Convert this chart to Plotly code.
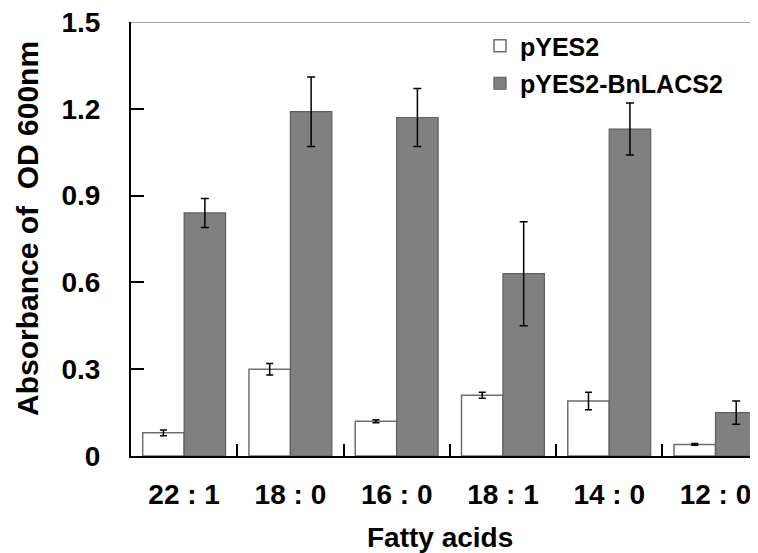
import plotly.graph_objects as go

categories = ["22 : 1", "18 : 0", "16 : 0", "18 : 1", "14 : 0", "12 : 0"]
pyes2 = [0.08, 0.30, 0.12, 0.21, 0.19, 0.04]
pyes2_err = [0.01, 0.02, 0.005, 0.01, 0.03, 0.003]
bnlacs2 = [0.84, 1.19, 1.17, 0.63, 1.13, 0.15]
bnlacs2_err = [0.05, 0.12, 0.10, 0.18, 0.09, 0.04]
y_ticks = [0, 0.3, 0.6, 0.9, 1.2, 1.5]
y_tick_labels = ["0", "0.3", "0.6", "0.9", "1.2", "1.5"]

FONT = "Liberation Sans, Arial, sans-serif"

fig = go.Figure()
fig.add_trace(go.Bar(
    x=categories, y=pyes2, name="pYES2", legendgroup="a",
    marker=dict(color="white", line=dict(color="#6e6e6e", width=1.5)),
    error_y=dict(type="data", array=pyes2_err, color="black", thickness=1.5, width=3.5),
))
fig.add_trace(go.Bar(
    x=categories, y=bnlacs2, name="pYES2-BnLACS2", legendgroup="b",
    marker=dict(color="#808080", line=dict(color="#5e5e5e", width=1.2)),
    error_y=dict(type="data", array=bnlacs2_err, color="black", thickness=1.5, width=4),
))

fig.add_shape(type="line", xref="paper", yref="y", x0=0, x1=1, y0=1.5, y1=1.5,
              line=dict(color="#8a8a8a", width=1.5))

fig.add_annotation(text="Absorbance of\u00a0 OD 600nm", textangle=-90,
                   xref="paper", yref="paper", x=(27 - 131) / 627, y=(456 - 229) / 434,
                   xanchor="center", yanchor="middle",
                   showarrow=False, font=dict(family=FONT, size=30, color="black", weight="bold"))
fig.add_annotation(text="Fatty acids",
                   xref="paper", yref="paper", x=(440 - 131) / 627, y=-(537 - 456) / 434,
                   xanchor="center", yanchor="middle",
                   showarrow=False, font=dict(family=FONT, size=28, color="black", weight="bold"))

fig.update_layout(
    width=750, height=545,
    margin=dict(l=123, r=0, t=14, b=97, autoexpand=False),
    paper_bgcolor="white", plot_bgcolor="white",
    barmode="group", bargap=0.22, bargroupgap=0,
    showlegend=True,
    legend=dict(x=(480 - 131) / 627, y=(456 - 23) / 434, xanchor="left", yanchor="top",
                font=dict(family=FONT, size=25, color="black", weight="bold"),
                bgcolor="rgba(0,0,0,0)", traceorder="grouped", tracegroupgap=2,
                itemclick=False),
    xaxis=dict(
        range=[-0.5, 5.40], showgrid=False, showline=True, linecolor="black", linewidth=2,
        ticks="inside", tickson="boundaries", ticklen=12, tickwidth=2, tickcolor="black",
        tickfont=dict(family=FONT, size=28, color="black", weight="bold"),
        ticklabelstandoff=12, ticklabeloverflow="allow", zeroline=False, automargin=False,
    ),
    yaxis=dict(
        range=[0, 1.5], showgrid=False, showline=True, linecolor="black", linewidth=2,
        ticks="inside", ticklen=13, tickwidth=1.5, tickcolor="black",
        tickvals=y_ticks, ticktext=y_tick_labels,
        tickfont=dict(family=FONT, size=28, color="black", weight="bold"),
        ticklabelstandoff=23, ticklabeloverflow="allow", zeroline=False, automargin=False,
    ),
)

fig.write_html("out.html")
